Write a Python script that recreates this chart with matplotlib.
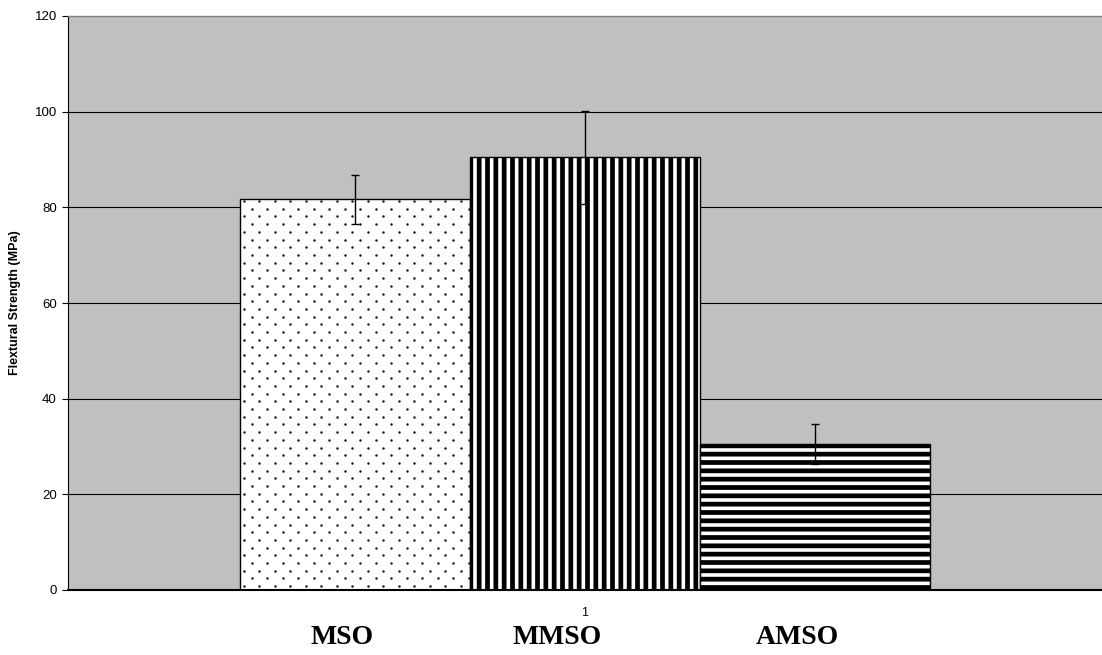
import numpy as np
import matplotlib
matplotlib.use("Agg")
import matplotlib.pyplot as plt

# data
series = ["MSO", "MMSO", "AMSO"]
strength = [81.7, 90.5, 30.5]
err = [5.1, 9.7, 4.2]
hatches = [None, "||", "--"]
category = ["1"]
yticks = [0, 20, 40, 60, 80, 100, 120]

plt.rcParams["font.family"] = ["Liberation Sans", "DejaVu Sans"]
plt.rcParams["hatch.linewidth"] = 3.4
plt.rcParams["hatch.color"] = "black"

fig = plt.figure(figsize=(11.02, 6.55), dpi=100)
ax = fig.add_axes([68 / 1102, 65 / 655, 1034 / 1102, 574 / 655])
ax.set_facecolor("#c0c0c0")

w = 1.0
offsets = np.array([-1, 0, 1]) * w
bars = []
for off, val, e, h in zip(offsets, strength, err, hatches):
    b = ax.bar(off, val, width=w, color="white", edgecolor="black",
               linewidth=1.0, hatch=h, zorder=2)[0]
    bars.append(b)

# dotted fill for the first bar (staggered dot grid, clipped to the bar)
b0 = bars[0]
x0, x1 = b0.get_x(), b0.get_x() + b0.get_width()
dx = 15.5 / 230 * w
dy = 1.61
pts_x, pts_y = [], []
for i, yy in enumerate(np.arange(dy / 2, b0.get_height(), dy)):
    start = x0 + (dx / 4 if i % 2 == 0 else dx * 3 / 4)
    for xx in np.arange(start, x1, dx):
        pts_x.append(xx)
        pts_y.append(yy)
dots = ax.scatter(pts_x, pts_y, s=3.2, color="#1a1a1a", linewidths=0, zorder=3)
dots.set_clip_path(b0)

ax.errorbar(offsets, strength, yerr=err, fmt="none", ecolor="black",
            elinewidth=1.0, capsize=3, capthick=1.0, zorder=4)

ax.set_xlim(-1034 / 230 / 2 * w, 1034 / 230 / 2 * w)
ax.set_ylim(0, 120)
ax.set_yticks(yticks)
ax.set_xticks([0])
ax.set_xticklabels(category)
ax.tick_params(axis="y", length=4, width=0.8, pad=4, labelsize=9.5, direction="out")
ax.tick_params(axis="x", length=0, pad=12, labelsize=9)

ax.yaxis.grid(True, color="black", linewidth=0.8, zorder=1)
ax.set_axisbelow(True)
ax.get_ygridlines()[-1].set_visible(False)

ax.spines["right"].set_visible(False)
ax.spines["top"].set_color("#808080")
ax.spines["top"].set_linewidth(1.0)
ax.spines["left"].set_linewidth(0.8)
ax.spines["bottom"].set_linewidth(1.5)

ax.set_ylabel("Flextural Strength (MPa)", fontsize=9, fontweight="bold", labelpad=10)

label_x = [(342 - 68) / 1034, (557 - 68) / 1034, (797 - 68) / 1034]
for lx, name in zip(label_x, series):
    ax.text(lx, -0.082, name, transform=ax.transAxes, ha="center", va="center",
            fontsize=20, fontweight="bold", family=["Liberation Serif", "DejaVu Serif"])

fig.savefig("out.png", dpi=100)
